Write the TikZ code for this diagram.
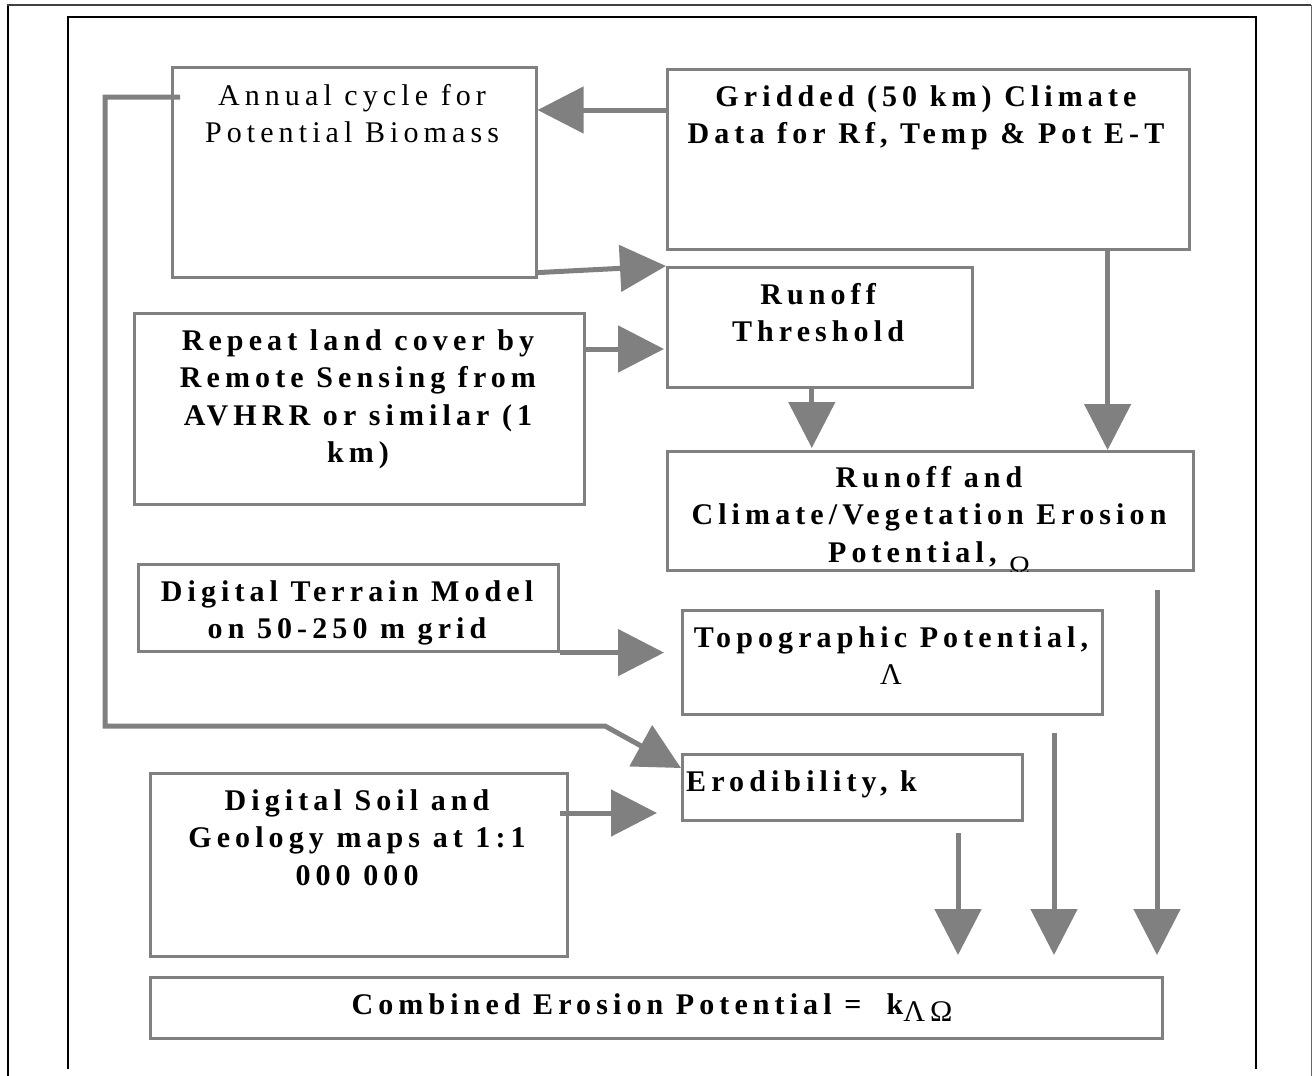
\documentclass[tikz,border=0pt]{standalone}
\usepackage{fontspec}
\setmainfont{Liberation Serif}
\usetikzlibrary{arrows.meta}
\definecolor{linegray}{HTML}{808080}

\begin{document}
\begin{tikzpicture}[x=1pt,y=-1pt,
  box/.style={draw=linegray, line width=2.6pt, rectangle, anchor=north west, inner sep=0pt},
  flow/.style={draw=linegray, line width=5pt, -{Triangle[length=46pt,width=46pt]}},
  lbl/.style={font=\fontsize{30}{37.5}\selectfont\bfseries\addfontfeatures{LetterSpace=17},
              align=center, inner sep=0pt, anchor=north},
  lblthin/.style={font=\fontsize{30}{37}\selectfont\addfontfeatures{LetterSpace=17},
              align=center, inner sep=0pt, anchor=north},
]
\useasboundingbox (0,0) rectangle (1312,1076);

% page frames
\draw[black, line width=1.6pt] (8,1076) -- (8,5);
\draw[black!75, line width=1.8pt] (7,5) -- (1311,5);
\draw[black!60, line width=1pt] (1311,5) -- (1311,1076);
\draw[black, line width=2pt] (68,1069) -- (68,17) -- (1256,17) -- (1256,1069);

% boxes
\node[box, minimum width=364pt, minimum height=210pt] (annual) at (171,66) {};
\node[box, minimum width=522pt, minimum height=180pt] (grid)   at (666,68) {};
\node[box, minimum width=305pt, minimum height=120pt] (thresh) at (666,266) {};
\node[box, minimum width=450pt, minimum height=191pt] (landcov) at (133,312) {};
\node[box, minimum width=526pt, minimum height=119pt] (runclim) at (666,450) {};
\node[box, minimum width=420pt, minimum height=87pt]  (dtm)    at (137,563) {};
\node[box, minimum width=420pt, minimum height=104pt] (topo)   at (681,609) {};
\node[box, minimum width=340pt, minimum height=66pt]  (erod)   at (681,753) {};
\node[box, minimum width=417pt, minimum height=183pt] (soil)   at (149,772) {};
\node[box, minimum width=1012pt, minimum height=61pt] (comb)   at (149,976) {};

% box texts
\node[lblthin] (annualT) at (352,84) {Annual cycle for\\Potential Biomass};
\node[lbl] (gridT) at (926,85) {Gridded (50 km) Climate\\Data for Rf, Temp \& Pot E-T};
\node[lbl] (threshT) at (818,283) {Runoff\\Threshold};
\node[lbl] (landcovT) at (358,329) {Repeat land cover by\\Remote Sensing from\\AVHRR or similar (1\\km)};
\begin{scope}
  \clip (runclim.north west) rectangle (runclim.south east);
  \node[lbl] (runclimT) at (929,466) {Runoff and\\Climate/Vegetation Erosion\\Potential, \raisebox{-13pt}{\fontsize{28}{28}\selectfont\mdseries Ω}};
\end{scope}
\node[lbl] (dtmT) at (347,580) {Digital Terrain Model\\on 50-250 m grid};
\node[lbl] (topoT) at (891,626) {Topographic Potential,\\{\mdseries Λ}};
\node[lbl, anchor=north west] (erodT) at (686,770) {Erodibility, k};
\node[lbl] (soilT) at (357,789) {Digital Soil and\\Geology maps at 1:1\\000 000};
\node[lbl] (combT) at (652,993) {Combined Erosion Potential =\ \ k\raisebox{-7pt}{\mdseries ΛΩ}};

% connectors
\coordinate (g1) at ([yshift=-42pt]grid.north west);
\draw[flow] (g1) -- (g1 -| annual.east);

\draw[flow] ([yshift=6pt]annual.south east) -- (thresh.north west);

\coordinate (r1) at ([yshift=-37pt]landcov.north east);
\coordinate (r2) at (r1 -| thresh.west);
\draw[flow] (r1) -- ([xshift=-2pt]r2);

\coordinate (t1) at ([xshift=-8pt]thresh.south);
\draw[flow] (t1) -- ([yshift=2pt]t1 |- runclim.north);

\coordinate (g2) at ([xshift=-83pt]grid.south east);
\draw[flow] (g2) -- (g2 |- runclim.north);

\coordinate (d1) at (topo.west |- dtm.south east);
\draw[flow] (dtm.south east) -- ([xshift=-17pt]d1);

\coordinate (s1) at ([yshift=-41pt,xshift=-9pt]soil.north east);
\coordinate (s2) at (s1 -| erod.west);
\draw[flow] (s1) -- ([xshift=-24pt]s2);

% biomass feed-back loop to erodibility
\coordinate (a0) at ([xshift=9pt,yshift=-31pt]annual.north west);
\coordinate (loopcorner) at (105,726);
\coordinate (loopbend) at (605,726);
\draw[flow, line join=miter] (a0) -| (loopcorner) -- (loopbend) -- ([yshift=-15pt]erod.north west);

% factor arrows into the combined potential
\coordinate (v1) at (958,833);
\coordinate (v2) at (1054,733);
\coordinate (v3) at (1157,590);
\coordinate (v1e) at (v1 |- comb.north);
\coordinate (v2e) at (v2 |- comb.north);
\coordinate (v3e) at (v3 |- comb.north);
\draw[flow] (v1) -- ([yshift=21pt]v1e);
\draw[flow] (v2) -- ([yshift=21pt]v2e);
\draw[flow] (v3) -- ([yshift=21pt]v3e);
\end{tikzpicture}
\end{document}
